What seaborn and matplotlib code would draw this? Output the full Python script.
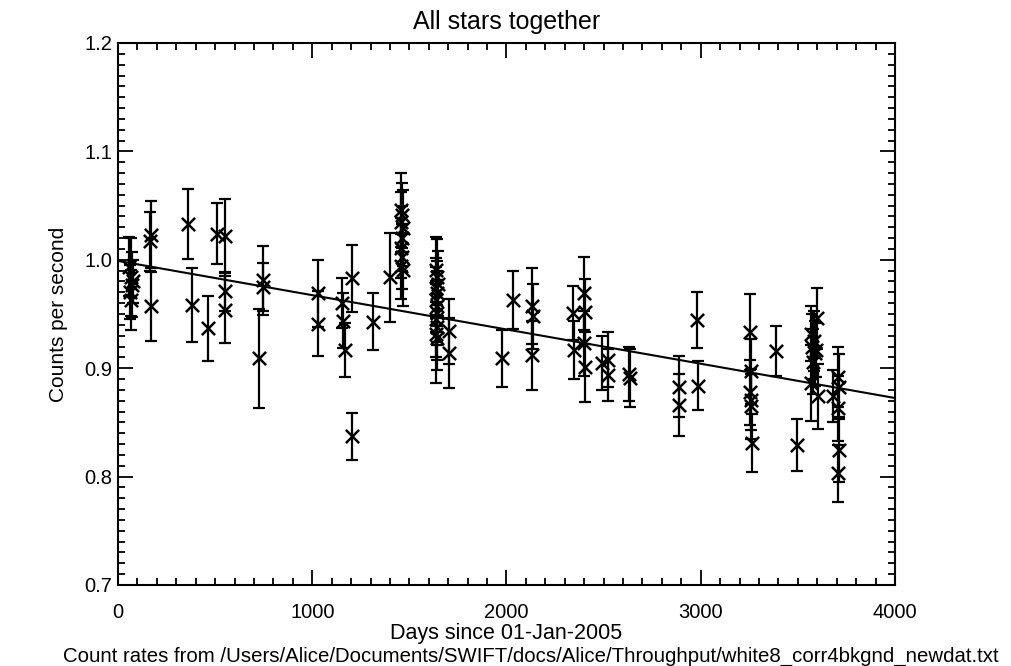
import matplotlib
matplotlib.use("Agg")
import matplotlib.pyplot as plt
from matplotlib.ticker import MultipleLocator, FormatStrFormatter
import seaborn as sns
import pandas as pd

# ---- data ----
days = [55, 65, 70, 60, 68, 75,
        168, 165, 170,
        362, 379, 462, 511, 551, 551, 551,
        727, 747, 747,
        1031, 1031, 1152, 1160, 1170, 1206, 1206, 1314, 1400,
        1455, 1462, 1458, 1465, 1460, 1456, 1463, 1459, 1466,
        1635, 1640, 1645, 1638, 1642, 1637, 1644, 1640, 1636, 1643, 1639, 1641,
        1704, 1704, 1975, 2035, 2130, 2135, 2130,
        2340, 2345, 2399, 2405, 2400, 2402,
        2494, 2524, 2524, 2632, 2636,
        2890, 2890, 2979, 2985,
        3255, 3258, 3256, 3260, 3257, 3262,
        3387, 3494,
        3600, 3570, 3575, 3590, 3580, 3565, 3605, 3585, 3595,
        3679,
        3708, 3712, 3705, 3710, 3708]
rates = [0.9936, 0.9844, 0.9768, 0.9706, 0.963, 0.980,
         1.023, 1.017, 0.957,
         1.033, 0.958, 0.937, 1.024, 1.022, 0.971, 0.954,
         0.909, 0.981, 0.975,
         0.969, 0.941, 0.960, 0.944, 0.917, 0.983, 0.837, 0.943, 0.984,
         1.046, 1.041, 1.035, 1.029, 1.020, 1.011, 1.003, 0.994, 0.991,
         0.991, 0.984, 0.978, 0.974, 0.969, 0.963, 0.957, 0.951, 0.945, 0.938, 0.932, 0.928,
         0.934, 0.914, 0.909, 0.963, 0.957, 0.948, 0.912,
         0.951, 0.917, 0.969, 0.952, 0.923, 0.901,
         0.905, 0.908, 0.894, 0.895, 0.891,
         0.883, 0.866, 0.9445, 0.884,
         0.933, 0.897, 0.878, 0.871, 0.865, 0.831,
         0.916, 0.829,
         0.946, 0.932, 0.920, 0.914, 0.906, 0.886, 0.874, 0.925, 0.917,
         0.874,
         0.892, 0.883, 0.863, 0.825, 0.803]
errors = [0.027, 0.036, 0.030, 0.025, 0.028, 0.020,
          0.031, 0.027, 0.032,
          0.032, 0.034, 0.030, 0.028, 0.034, 0.018, 0.031,
          0.046, 0.032, 0.022,
          0.031, 0.030, 0.023, 0.025, 0.025, 0.031, 0.022, 0.026, 0.041,
          0.034, 0.030, 0.028, 0.035, 0.030, 0.028, 0.030, 0.030, 0.034,
          0.030, 0.035, 0.030, 0.028, 0.030, 0.030, 0.033, 0.030, 0.035, 0.030, 0.046, 0.030,
          0.030, 0.032, 0.026, 0.027, 0.035, 0.030, 0.032,
          0.025, 0.027, 0.034, 0.030, 0.030, 0.032,
          0.025, 0.025, 0.024, 0.025, 0.027,
          0.028, 0.029, 0.026, 0.023,
          0.035, 0.030, 0.030, 0.028, 0.030, 0.027,
          0.023, 0.024,
          0.028, 0.025, 0.030, 0.030, 0.030, 0.035, 0.030, 0.028, 0.025,
          0.024,
          0.028, 0.030, 0.030, 0.030, 0.026]

fit_days = [0, 4000]
fit_rates = [0.999, 0.8725]

x_ticks = [0, 1000, 2000, 3000, 4000]
y_ticks = [0.7, 0.8, 0.9, 1.0, 1.1, 1.2]

title = "All stars together"
x_label = "Days since 01-Jan-2005"
y_label = "Counts per second"
note = "Count rates from /Users/Alice/Documents/SWIFT/docs/Alice/Throughput/white8_corr4bkgnd_newdat.txt"

# ---- plotting ----
sns.set_theme(style="white")
plt.rcParams["font.family"] = ["Liberation Sans", "DejaVu Sans"]
plt.rcParams["text.color"] = "black"
plt.rcParams["axes.labelcolor"] = "black"
plt.rcParams["xtick.color"] = "black"
plt.rcParams["ytick.color"] = "black"

df = pd.DataFrame({"day": days, "rate": rates, "err": errors})
fit_df = pd.DataFrame({"day": fit_days, "rate": fit_rates})

fig = plt.figure(figsize=(10.12, 6.66), dpi=100)
ax = fig.add_axes([118 / 1012, 81 / 666, 777 / 1012, 542 / 666])

ax.errorbar(df["day"], df["rate"], yerr=df["err"], fmt="none",
            ecolor="black", elinewidth=1.6, capsize=4, capthick=1.6, zorder=2)
sns.scatterplot(data=df, x="day", y="rate", marker="x", s=90, color="black",
                linewidth=1.8, ax=ax, zorder=3, legend=False)
sns.lineplot(data=fit_df, x="day", y="rate", color="black", linewidth=1.5,
             ax=ax, zorder=4, legend=False)

ax.set_xlim(0, 4000)
ax.set_ylim(0.7, 1.2)
ax.set_xticks(x_ticks)
ax.set_yticks(y_ticks)
ax.yaxis.set_major_formatter(FormatStrFormatter("%.1f"))
ax.xaxis.set_minor_locator(MultipleLocator(100))
ax.yaxis.set_minor_locator(MultipleLocator(0.01))
ax.tick_params(which="both", direction="in", top=True, right=True,
               bottom=True, left=True, color="black", labelcolor="black", width=1.3)
ax.tick_params(which="major", length=11, labelsize=14.5)
ax.tick_params(axis="x", which="major", pad=13)
ax.tick_params(axis="y", which="major", pad=4)
ax.tick_params(which="minor", length=5)
for s in ax.spines.values():
    s.set_color("black")
    s.set_linewidth(1.5)

ax.set_xlabel(x_label, fontsize=15.5, labelpad=1, color="black")
ax.set_ylabel(y_label, fontsize=15, labelpad=12, color="black")
ax.set_title(title, fontsize=18, pad=10, color="black")
fig.text(0.525, 0.007, note, ha="center", va="baseline", fontsize=14.7, color="black")

fig.savefig("out.png", dpi=100)
